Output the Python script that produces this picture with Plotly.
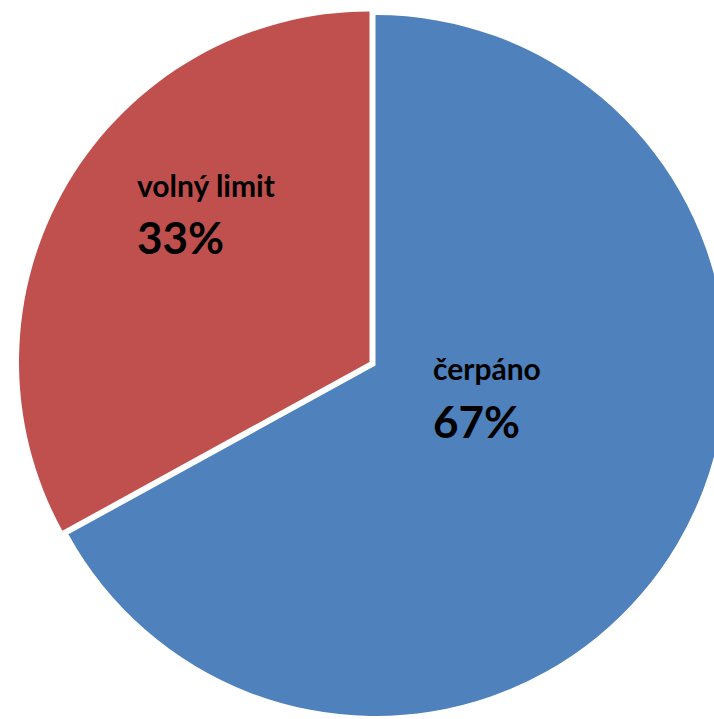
import plotly.graph_objects as go

labels = ["čerpáno", "volný limit"]
values = [67, 33]
colors = ["#4F81BD", "#C0504D"]
pulls = [0, 0.02]

W, H = 733, 723

fig = go.Figure(go.Pie(
    labels=labels,
    values=values,
    sort=False,
    direction="clockwise",
    rotation=0,
    pull=pulls,
    marker=dict(colors=colors, line=dict(width=0)),
    textinfo="none",
    hoverinfo="label+percent",
    showlegend=False,
    domain=dict(x=[0.0246, 1.0], y=[0.0, 0.989]),
))

total = sum(values)
label_pos = {  # (left px, top px of name line, top px of percent line)
    "čerpáno": (431, 348, 393),
    "volný limit": (135, 165, 209),
}
for lab, val in zip(labels, values):
    lx, ny, py = label_pos[lab]
    fig.add_annotation(text=f"<b>{lab}</b>", x=lx / W, y=1 - ny / H,
                       xref="paper", yref="paper", xanchor="left", yanchor="top",
                       showarrow=False, font=dict(family="Lato", size=30, color="black"))
    fig.add_annotation(text=f"<b>{round(val / total * 100)}%</b>", x=lx / W, y=1 - py / H,
                       xref="paper", yref="paper", xanchor="left", yanchor="top",
                       showarrow=False, font=dict(family="Lato", size=44, color="black"))

fig.update_layout(
    width=W, height=H,
    margin=dict(l=0, r=0, t=0, b=0),
    paper_bgcolor="white", plot_bgcolor="white",
)

fig.write_html("out.html", config={"displayModeBar": False},
               post_script="document.body.style.overflow='hidden';document.body.style.margin='0';")
